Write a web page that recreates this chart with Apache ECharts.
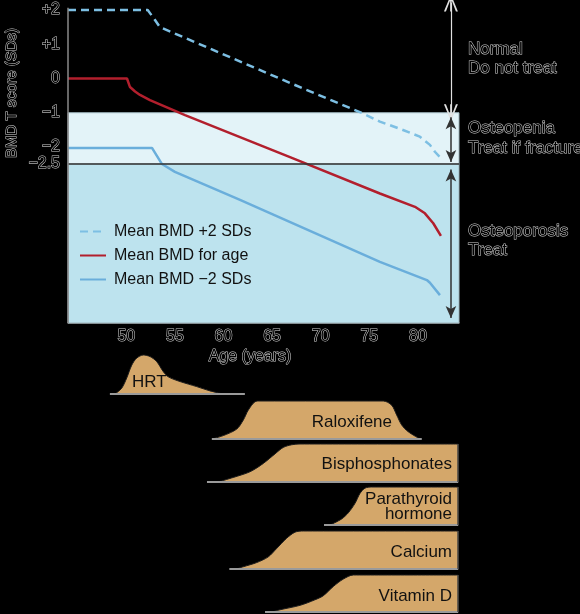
<!DOCTYPE html>
<html>
<head>
<meta charset="utf-8">
<script src="https://cdn.jsdelivr.net/npm/echarts@6.0.0/dist/echarts.min.js"></script>
<style>
  html, body { margin: 0; padding: 0; background: #000; }
  #main { width: 580px; height: 614px; }
</style>
</head>
<body>
<div id="main"></div>
<script>
const FONT = '"Liberation Sans", Arial, Helvetica, sans-serif'

// BMD T score lines, [age, T score]
const plus2Sd = [[44.0, 2.0], [52.2, 2.0], [52.95, 1.71], [53.46, 1.5], [66.84, -0.13], [74.34, -1.02], [76.09, -1.26], [78.15, -1.47], [80.2, -1.7], [81.24, -1.94], [81.75, -2.14], [82.27, -2.3]]
const meanForAge = [[44.0, 0], [50.07, 0], [50.38, -0.25], [50.9, -0.38], [51.41, -0.48], [52.43, -0.63], [56.04, -1.07], [66.84, -2.3], [76.09, -3.36], [79.7, -3.75], [80.72, -3.94], [81.58, -4.23], [82.37, -4.6]]
const minus2Sd = [[44.0, -2.03], [52.64, -2.03], [53.67, -2.5], [55.0, -2.73], [61.7, -3.55], [76.09, -5.36], [80.92, -5.89], [81.24, -5.97], [82.27, -6.33]]

const xTicks = [50, 55, 60, 65, 70, 75, 80]
const yTicks = [2, 1, 0, -1, -2, -2.5]
const yTickLabels = ['+2', '+1', '0', '\u22121', '\u22122', '\u22122.5']
const zoneBounds = [-1, -2.5]

// treatment usage by age, [age, relative use 0..1]
const hrt = [[48.83, 0], [49.53, 0.15], [50.04, 0.41], [50.56, 0.74], [51.07, 0.92], [51.75, 1.0], [52.44, 0.96], [53.13, 0.83], [53.81, 0.57], [54.32, 0.44], [55.52, 0.32], [57.24, 0.19], [58.61, 0.08], [59.98, 0]]
const raloxifene = [[58.79, 0], [59.98, 0.09], [61.36, 0.26], [62.04, 0.5], [62.55, 0.76], [63.24, 0.98], [63.76, 1], [76.44, 1], [77.3, 0.89], [77.82, 0.63], [78.33, 0.37], [79.01, 0.19], [80.22, 0]]
const bisphosphonates = [[59.43, 0], [61.0, 0.12], [62.73, 0.27], [64.1, 0.49], [65.3, 0.74], [66.15, 0.91], [67.02, 0.98], [67.87, 1], [84.15, 1]]
const parathyroid = [[70.96, 0], [72.16, 0.16], [72.84, 0.32], [73.53, 0.57], [74.04, 0.83], [74.56, 0.97], [75.25, 1], [84.15, 1]]
const calcium = [[61.29, 0], [62.04, 0.06], [63.42, 0.17], [64.61, 0.32], [65.47, 0.54], [66.5, 0.81], [67.36, 0.97], [68.21, 1], [84.15, 1]]
const vitaminD = [[64.99, 0], [65.81, 0.06], [67.87, 0.18], [69.41, 0.33], [70.27, 0.44], [71.3, 0.69], [72.33, 0.89], [73.36, 1.0], [84.15, 1]]
const treatmentNames = ['HRT', 'Raloxifene', 'Bisphosphonates', 'Parathyroid\nhormone', 'Calcium', 'Vitamin D']
const baselineAges = [[48.31, 62.2], [58.8, 80.4], [58.3, 84.15], [70.34, 84.15], [60.6, 84.15], [64.27, 84.15]]

const X_MIN = 44.0
const X_MAX = 84.23
const Y_MIN = -7.145
const Y_MAX = 2.206

const chart = echarts.init(document.getElementById('main'))

const outlined = { color: '#000', textBorderColor: '#d4d4d4', textBorderWidth: 1, fontFamily: FONT, fontSize: 16 }
const tan = '#d4a76a'
// hollow arrow head, drawn as an outline
const hollowHead = 'path://M7,0 L14,17 L12,17 L7,4 L2,17 L0,17 Z M6.2,4 L7.8,4 L7.8,17 L6.2,17 Z'

const treatmentData = [hrt, raloxifene, bisphosphonates, parathyroid, calcium, vitaminD]
const rows = [
  { top: 355, height: 39 },
  { top: 401, height: 38 },
  { top: 444, height: 38 },
  { top: 487, height: 38 },
  { top: 531, height: 38 },
  { top: 575, height: 37 }
]
const labelPos = [
  { x: 132, y: 382, align: 'left' },
  { x: 392, y: 422, align: 'right' },
  { x: 452, y: 464, align: 'right' },
  { x: 452, y: 507, align: 'right' },
  { x: 452, y: 552, align: 'right' },
  { x: 452, y: 596, align: 'right' }
]

const grids = [{ left: 68, right: 121, top: 3, height: 320 }]
const xAxes = [{
  type: 'value', gridIndex: 0, min: X_MIN, max: X_MAX,
  axisLine: { show: true, onZero: false, lineStyle: { color: '#8a8a8a', width: 1.5 } },
  axisTick: { show: true, inside: true, length: 9, customValues: xTicks, lineStyle: { color: '#000', width: 1.5 } },
  axisLabel: Object.assign({ customValues: xTicks, margin: 6 }, outlined),
  splitLine: { show: false }
}]
const yAxes = [{
  type: 'value', gridIndex: 0, min: Y_MIN, max: Y_MAX,
  axisLine: { show: false },
  axisTick: { show: false },
  axisLabel: Object.assign({
    customValues: yTicks, margin: 8,
    formatter: v => yTickLabels[yTicks.indexOf(v)] || ''
  }, outlined),
  splitLine: { show: false }
}]

const series = [
  {
    // zones, left axis line and arrows
    type: 'line', xAxisIndex: 0, yAxisIndex: 0, data: [], z: 1, clip: false, silent: true,
    markArea: {
      silent: true,
      data: [
        [{ yAxis: zoneBounds[0], itemStyle: { color: '#e3f3f8', borderColor: '#9fb5bd', borderWidth: 1 } }, { yAxis: zoneBounds[1] }],
        [{ yAxis: zoneBounds[1], itemStyle: { color: '#bde3ee', borderColor: '#9fb5bd', borderWidth: 1 } }, { yAxis: Y_MIN }]
      ]
    },
    markLine: {
      silent: true, symbol: 'none', animation: false, label: { show: false },
      data: [
        { yAxis: zoneBounds[1], lineStyle: { color: '#333', width: 1.5, type: 'solid' } },
        [
          { coord: [X_MIN, 2.07], lineStyle: { color: '#8a8a8a', width: 1.5, type: 'solid' } },
          { coord: [X_MIN, Y_MIN] }
        ],
        [
          { coord: [83.4, Y_MAX], symbol: hollowHead, symbolSize: [14, 17], lineStyle: { color: '#e0e0e0', width: 1.2, type: 'solid' } },
          { coord: [83.4, -1.0], symbol: hollowHead, symbolSize: [14, 17] }
        ],
        [
          { coord: [83.4, -1.13], symbol: 'arrow', symbolSize: [8, 12], lineStyle: { color: '#333', width: 1.5, type: 'solid' } },
          { coord: [83.4, -2.44], symbol: 'arrow', symbolSize: [8, 12] }
        ],
        [
          { coord: [83.4, -2.66], symbol: 'arrow', symbolSize: [8, 12], lineStyle: { color: '#333', width: 1.5, type: 'solid' } },
          { coord: [83.4, -7.0], symbol: 'arrow', symbolSize: [8, 12] }
        ]
      ]
    }
  },
  {
    name: 'Mean BMD +2 SDs', type: 'line', data: plus2Sd, symbol: 'none', z: 3,
    lineStyle: { color: '#7dbfe3', width: 2.5, type: [8, 5] }, itemStyle: { color: '#7dbfe3' }, clip: false
  },
  {
    name: 'Mean BMD for age', type: 'line', data: meanForAge, symbol: 'none', z: 3,
    lineStyle: { color: '#b21f2d', width: 2.5 }, itemStyle: { color: '#b21f2d' }
  },
  {
    name: 'Mean BMD \u22122 SDs', type: 'line', data: minus2Sd, symbol: 'none', z: 3,
    lineStyle: { color: '#6aaedb', width: 2.5 }, itemStyle: { color: '#6aaedb' }
  }
]

treatmentData.forEach((d, i) => {
  const idx = i + 1
  grids.push({ left: 68, right: 121, top: rows[i].top, height: rows[i].height })
  xAxes.push({ type: 'value', gridIndex: idx, min: X_MIN, max: X_MAX, show: false })
  yAxes.push({ type: 'value', gridIndex: idx, min: 0, max: 1, show: false })
  const last = d[d.length - 1]
  const lines = [[
    { coord: [baselineAges[i][0], 0] },
    { coord: [baselineAges[i][1], 0] }
  ]]
  if (last[1] > 0) {
    lines.push([
      { coord: [last[0], 0], lineStyle: { color: '#444', width: 1.5 } },
      { coord: [last[0], 1] }
    ])
  }
  series.push({
    type: 'line', xAxisIndex: idx, yAxisIndex: idx, data: d, symbol: 'none',
    smooth: 0.3, clip: false, silent: true,
    lineStyle: { color: '#1c1c1c', width: 1 },
    areaStyle: { color: tan, opacity: 1 },
    markLine: {
      silent: true, symbol: 'none', animation: false, label: { show: false },
      lineStyle: { color: '#9a9a9a', width: 2, type: 'solid' },
      data: lines
    }
  })
})

const texts = treatmentNames.map((name, i) => ({
  type: 'text', x: labelPos[i].x, y: labelPos[i].y, z: 10,
  style: {
    text: name, fill: '#111', font: '17px ' + FONT,
    align: labelPos[i].align, verticalAlign: 'middle', lineHeight: 15
  }
}))

const zoneTexts = [
  { text: 'Normal', y: 49 },
  { text: 'Do not treat', y: 68 },
  { text: 'Osteopenia', y: 128 },
  { text: 'Treat if fractures', y: 148 },
  { text: 'Osteoporosis', y: 231 },
  { text: 'Treat', y: 250 }
].map(t => ({
  type: 'text', x: 468, y: t.y,
  style: {
    text: t.text, fill: '#000', stroke: '#d4d4d4', lineWidth: 1,
    font: '17px ' + FONT, align: 'left', verticalAlign: 'middle'
  }
}))

chart.setOption({
  backgroundColor: '#000',
  animation: false,
  grid: grids,
  xAxis: xAxes,
  yAxis: yAxes,
  legend: {
    orient: 'vertical', left: 74, top: 218,
    itemWidth: 26, itemHeight: 12, itemGap: 7,
    selectedMode: false,
    itemStyle: { opacity: 0 },
    textStyle: { color: '#111', fontSize: 16, fontFamily: FONT, lineHeight: 17, padding: [0, 0, 0, 3] },
    data: ['Mean BMD +2 SDs', 'Mean BMD for age', 'Mean BMD \u22122 SDs']
  },
  series: series,
  graphic: [
    {
      type: 'text', x: 12, y: 93, rotation: Math.PI / 2,
      style: {
        text: 'BMD T score (SDs)', fill: '#000', stroke: '#d4d4d4', lineWidth: 1,
        font: '15px ' + FONT, align: 'center', verticalAlign: 'middle'
      }
    },
    {
      type: 'text', x: 250, y: 357,
      style: {
        text: 'Age (years)', fill: '#000', stroke: '#d4d4d4', lineWidth: 1,
        font: '16px ' + FONT, align: 'center', verticalAlign: 'middle'
      }
    }
  ].concat(texts, zoneTexts)
})

window.addEventListener('resize', () => {
  chart.resize()
})
</script>
</body>
</html>
